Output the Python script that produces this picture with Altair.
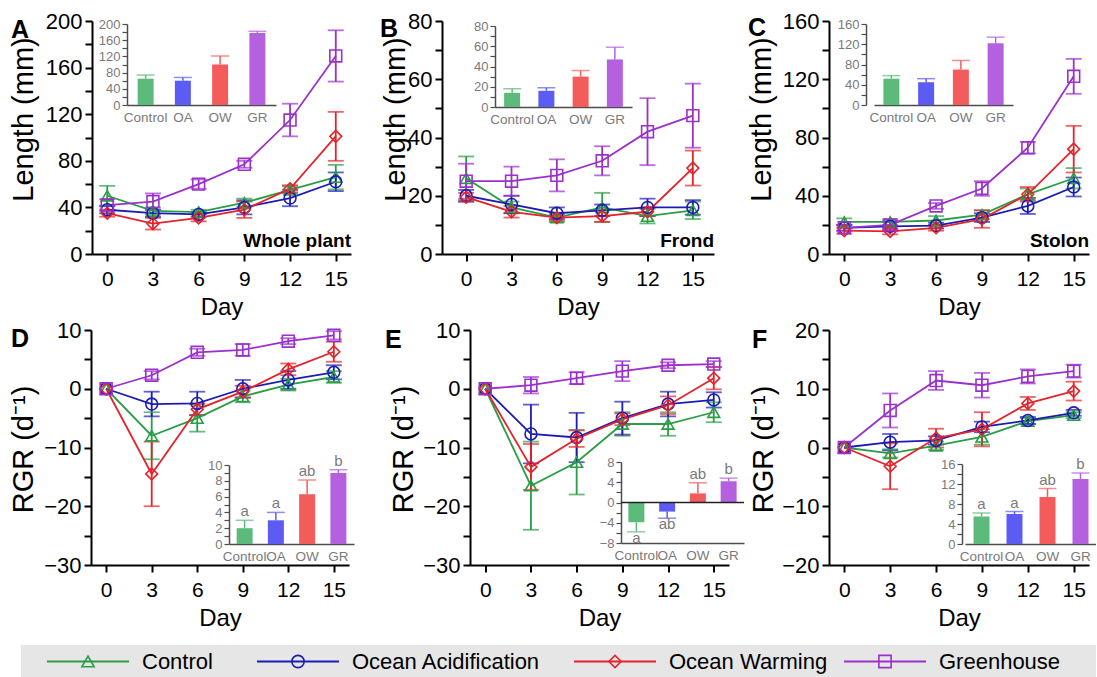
import altair as alt
import pandas as pd

FONT = "Liberation Sans"

# ------------------------------------------------------------------ data
DAYS = [0, 3, 6, 9, 12, 15]
SERIES = ["Control", "Ocean Acidification", "Ocean Warming", "Greenhouse"]
CATS = ["Control", "OA", "OW", "GR"]

# A: whole plant length (mm)
A_MEAN = {"Control": [50, 37, 36, 44, 55, 66],
          "Ocean Acidification": [38, 35, 34, 40, 48, 62],
          "Ocean Warming": [35, 26, 31, 38, 56, 101],
          "Greenhouse": [42, 45, 60, 77, 115, 170]}
A_ERR = {"Control": [8.5, 3, 2, 3.5, 3, 10.5],
         "Ocean Acidification": [3, 3, 2, 6, 7, 8],
         "Ocean Warming": [3, 5, 3, 7, 3, 21],
         "Greenhouse": [5, 7, 4, 3, 14, 22]}
A_BAR = [65, 60, 100, 178]
A_BAR_ERR = [9, 8, 21, 4]

# B: frond length (mm)
B_MEAN = {"Control": [26, 16, 12.5, 16, 13, 15],
          "Ocean Acidification": [20, 17, 14, 15, 16, 16],
          "Ocean Warming": [19.5, 14.5, 12.5, 13, 14.5, 29.5],
          "Greenhouse": [25, 25, 27, 32, 42, 47.5]}
B_ERR = {"Control": [7.5, 2, 1.5, 5, 2.5, 3],
         "Ocean Acidification": [2, 3, 2, 2, 3, 2.5],
         "Ocean Warming": [1.5, 2, 1, 2, 1.5, 6],
         "Greenhouse": [6, 5, 5.5, 5, 11.5, 11]}
B_BAR = [14, 16, 30, 47]
B_BAR_ERR = [4, 3, 6, 12]

# C: stolon length (mm)
C_MEAN = {"Control": [22, 22, 23, 27, 41, 52],
          "Ocean Acidification": [18, 19, 19.5, 25, 33, 46],
          "Ocean Warming": [16, 15.5, 18, 24, 41, 72],
          "Greenhouse": [18, 20, 33, 45, 73, 122]}
C_ERR = {"Control": [2.5, 2, 3, 3, 4, 7],
         "Ocean Acidification": [2, 3, 2, 3, 5.5, 6.5],
         "Ocean Warming": [2, 2, 2, 6, 5, 16],
         "Greenhouse": [2, 3, 2, 5, 4, 12]}
C_BAR = [52, 45, 70, 122]
C_BAR_ERR = [6, 7, 18, 12]

# D: RGR whole plant
D_MEAN = {"Control": [0, -8, -5, -1.3, 0.7, 2],
          "Ocean Acidification": [0, -2.6, -2.5, 0, 1.5, 2.8],
          "Ocean Warming": [0, -14.5, -3.5, -0.5, 3.3, 6.3],
          "Greenhouse": [0, 2.3, 6.2, 6.6, 8.1, 9.1]}
D_ERR = {"Control": [0, 4, 2.3, 1, 1, 1],
         "Ocean Acidification": [0, 2.1, 2, 1.5, 1.5, 1.2],
         "Ocean Warming": [0, 5.5, 1, 1, 1, 1.7],
         "Greenhouse": [0, 0.7, 0.6, 1, 0.5, 0.7]}
D_BAR = [2, 3, 6.3, 9]
D_BAR_ERR = [1, 1, 1.8, 0.4]
D_LETTERS = ["a", "a", "ab", "b"]

# E: RGR frond
E_MEAN = {"Control": [0, -16.5, -12.5, -6, -6, -4],
          "Ocean Acidification": [0, -7.7, -8.3, -5, -2.6, -1.9],
          "Ocean Warming": [0, -13.3, -8.5, -5.2, -2.8, 1.8],
          "Greenhouse": [0, 0.6, 1.8, 3, 4, 4.2]}
E_ERR = {"Control": [0, 7.5, 5.5, 2, 2, 1.7],
         "Ocean Acidification": [0, 5, 4.2, 2.8, 2.1, 1.3],
         "Ocean Warming": [0, 3.9, 1.4, 1, 1.5, 1.9],
         "Greenhouse": [0, 1.4, 1, 1.7, 0.5, 0.5]}
E_BAR = [-3.9, -1.8, 1.8, 4.2]
E_BAR_ERR = [1.9, 1.3, 2.1, 0.6]
E_LETTERS = ["a", "ab", "ab", "b"]

# F: RGR stolon
F_MEAN = {"Control": [0, -1, 0.3, 1.8, 4.5, 5.5],
          "Ocean Acidification": [0, 0.9, 1.2, 3.5, 4.6, 5.9],
          "Ocean Warming": [0, -3.2, 1.6, 3.1, 7.5, 9.6],
          "Greenhouse": [0, 6.3, 11.4, 10.6, 12.1, 13]}
F_ERR = {"Control": [0, 0.7, 0.7, 1.3, 0.5, 0.5],
         "Ocean Acidification": [0, 1.4, 0.7, 0.9, 0.6, 0.5],
         "Ocean Warming": [0, 3.9, 1.6, 2.9, 1.1, 1.6],
         "Greenhouse": [0, 2.9, 1.6, 2.1, 1.2, 1.1]}
F_BAR = [5.5, 6, 9.4, 13]
F_BAR_ERR = [0.7, 0.5, 1.7, 1.2]
F_LETTERS = ["a", "a", "ab", "b"]

# ------------------------------------------------------------------ styles / layout
LINE_COLORS = ["#2a9d46", "#1c1cb4", "#e4232a", "#9b30cc"]
BAR_COLORS = ["#5cba7b", "#5c5cf4", "#f45c5c", "#b560df"]
SHAPES = ["triangle-up", "circle", "diamond", "square"]
GRAY = "#7a7a7a"
IGRAY = "#4d4d4d"

SLOT_X = [93, 461.5, 830]
ROW_TOP = [20, 329, 640]
ROW_H = [233, 235]
W = 259

RGR = "RGR (d\u207b\u00b9)"
PANELS = [
    dict(L="A", col=0, row=0, ax=93, xend=352, xdom=[-1, 16], ydom=[0, 200], ystep=20, lstep=40,
         title="Length (mm)", tx=33, ty=118, lxy=(12, 37), tag="Whole plant", tagxy=(352, 246),
         mean=A_MEAN, err=A_ERR,
         ins=dict(ax=128, x0=128, x1=277, ytop=23, ybot=104, dom=[0, 200], step=20, lstep=40,
                  val=A_BAR, se=A_BAR_ERR, let=None)),
    dict(L="B", col=1, row=0, ax=443, xend=715, xdom=[-1.6, 16.4], ydom=[0, 80], ystep=10, lstep=20,
         title="Length (mm)", tx=405, ty=118, lxy=(381, 36), tag="Frond", tagxy=(715, 246),
         mean=B_MEAN, err=B_ERR,
         ins=dict(ax=496, x0=496, x1=633, ytop=25, ybot=106, dom=[0, 80], step=10, lstep=20,
                  val=B_BAR, se=B_BAR_ERR, let=None)),
    dict(L="C", col=2, row=0, ax=830, xend=1090, xdom=[-1, 16], ydom=[0, 160], ystep=20, lstep=40,
         title="Length (mm)", tx=771, ty=118, lxy=(749, 35), tag="Stolon", tagxy=(1090, 246),
         mean=C_MEAN, err=C_ERR,
         ins=dict(ax=867, x0=875, x1=1014, ytop=23, ybot=104, dom=[0, 160], step=20, lstep=40,
                  val=C_BAR, se=C_BAR_ERR, let=None)),
    dict(L="D", col=0, row=1, ax=92, xend=350, xdom=[-1, 16], ydom=[-30, 10], ystep=5, lstep=10,
         title=RGR, tx=33, ty=448, lxy=(12, 346), tag=None,
         mean=D_MEAN, err=D_ERR,
         ins=dict(ax=230, x0=230, x1=355, ytop=464, ybot=543, dom=[0, 10], step=1, lstep=2,
                  val=D_BAR, se=D_BAR_ERR, let=D_LETTERS)),
    dict(L="E", col=1, row=1, ax=471, xend=730, xdom=[-1, 16], ydom=[-30, 10], ystep=5, lstep=10,
         title=RGR, tx=413, ty=448, lxy=(386, 347), tag=None,
         mean=E_MEAN, err=E_ERR,
         ins=dict(ax=622, x0=622, x1=745, ytop=461, ybot=542, dom=[-8, 8], step=2, lstep=4,
                  val=E_BAR, se=E_BAR_ERR, let=E_LETTERS, zero=True)),
    dict(L="F", col=2, row=1, ax=830, xend=1090, xdom=[-1, 16], ydom=[-20, 20], ystep=5, lstep=10,
         title=RGR, tx=773, ty=448, lxy=(753, 347), tag=None,
         mean=F_MEAN, err=F_ERR,
         ins=dict(ax=963, x0=966, x1=1098, ytop=463, ybot=543, dom=[0, 16], step=2, lstep=4,
                  val=F_BAR, se=F_BAR_ERR, let=F_LETTERS)),
]

LEGEND_X = {"Control": 48, "Ocean Acidification": 258, "Ocean Warming": 575, "Greenhouse": 845}

color = alt.Color("series:N", scale=alt.Scale(domain=SERIES, range=LINE_COLORS), legend=None)
shape = alt.Shape("series:N", scale=alt.Scale(domain=SERIES, range=SHAPES), legend=None)
ifill = alt.Fill("cat:N", scale=alt.Scale(domain=CATS, range=BAR_COLORS), legend=None)
istroke = alt.Stroke("cat:N", scale=alt.Scale(domain=CATS, range=BAR_COLORS), legend=None)


def frange(a, b, s):
    out, v = [], a
    while v <= b + 1e-9:
        out.append(round(v, 6))
        v += s
    return out


def long_df(means, errs):
    rows = []
    for s in SERIES:
        for d, m, e in zip(DAYS, means[s], errs[s]):
            rows.append(dict(day=d, series=s, mean=m, lo=m - e, hi=m + e, err=e))
    return pd.DataFrame(rows)


def panel(p):
    ox, oy, H = SLOT_X[p["col"]], ROW_TOP[p["row"]], ROW_H[p["row"]]
    df = long_df(p["mean"], p["err"])
    xs = alt.Scale(domain=p["xdom"], range=[p["ax"] - ox, p["xend"] - ox], nice=False, zero=False)
    ys = alt.Scale(domain=p["ydom"], range=[H, 0], nice=False, zero=False)
    xax = alt.Axis(values=DAYS, title="Day", titleFontSize=24, titleFontWeight="normal", titleColor="black",
                   titleY=60, titleBaseline="alphabetic", labelFontSize=21, labelColor="black",
                   labelPadding=7, tickSize=7, tickWidth=2, tickColor="black", domainColor="black",
                   domainWidth=2, grid=False, labelFlush=False, labelOverlap=False, orient="bottom")
    yax = alt.Axis(values=frange(p["ydom"][0], p["ydom"][1], p["ystep"]),
                   labelExpr=f"datum.value % {p['lstep']} === 0 ? datum.label : ''",
                   title=p["title"], titleX=p["tx"] - p["ax"], titleY=p["ty"] - oy, titleAngle=270,
                   titleAlign="center", titleBaseline="alphabetic", titleFontSize=29,
                   titleFontWeight="normal", titleColor="black", labelFontSize=22, labelColor="black",
                   labelPadding=3, tickSize=7, tickWidth=2, tickColor="black", domainColor="black",
                   domainWidth=2, grid=False, labelOverlap=False, labelFlush=False,
                   offset=ox - p["ax"], orient="left")
    xe = alt.X("day:Q", scale=xs, axis=xax)

    def ye(f):
        return alt.Y(f + ":Q", scale=ys, axis=yax)

    base = alt.Chart(df)
    rules = base.mark_rule(strokeWidth=1.8).encode(x=xe, y=ye("lo"), y2="hi:Q", color=color)
    caps = (base.transform_filter("datum.err > 0")
            .transform_fold(["lo", "hi"], as_=["end", "yv"])
            .mark_tick(orient="horizontal", size=16, thickness=1.8)
            .encode(x=xe, y=ye("yv"), color=color))
    lines = base.mark_line(strokeWidth=1.8).encode(x=xe, y=ye("mean"), color=color)
    pts = base.mark_point(filled=False, size=140, strokeWidth=1.6, opacity=1).encode(
        x=xe, y=ye("mean"), color=color, shape=shape)
    layers = [rules, caps, lines, pts]
    letter = alt.Chart(pd.DataFrame({"t": [p["L"]]})).mark_text(
        align="left", baseline="alphabetic", fontSize=25, fontWeight="bold", color="black").encode(
        text="t:N", x=alt.value(p["lxy"][0] - ox), y=alt.value(p["lxy"][1] - oy))
    layers.append(letter)
    if p["tag"]:
        tag = alt.Chart(pd.DataFrame({"t": [p["tag"]]})).mark_text(
            align="right", baseline="alphabetic", fontSize=19, fontWeight="bold", color="black").encode(
            text="t:N", x=alt.value(p["tagxy"][0] - ox), y=alt.value(p["tagxy"][1] - oy))
        layers.append(tag)
    main = alt.layer(*layers)

    # ---------------- inset bar chart
    q = p["ins"]
    ends = [v + (s if v >= 0 else -s) for v, s in zip(q["val"], q["se"])]
    idf = pd.DataFrame({"cat": CATS, "val": q["val"], "end": ends,
                        "letter": q["let"] if q["let"] else [""] * 4})
    ixs = alt.Scale(domain=CATS, range=[q["x0"] - ox, q["x1"] - ox], paddingInner=0, paddingOuter=0)
    iys = alt.Scale(domain=q["dom"], range=[q["ybot"] - oy, q["ytop"] - oy], nice=False, zero=False)
    ixax = alt.Axis(title=None, labelAngle=0, labelFontSize=13.5, labelColor=GRAY, ticks=False,
                    domainColor=IGRAY, domainWidth=1.5, labelPadding=5, grid=False, orient="bottom",
                    offset=-(H - (q["ybot"] - oy)), labelOverlap=False)
    iyax = alt.Axis(values=frange(q["dom"][0], q["dom"][1], q["step"]),
                    labelExpr=f"datum.value % {q['lstep']} === 0 ? datum.label : ''",
                    title=None, labelFontSize=13, labelColor=GRAY, tickSize=5, tickWidth=1.2,
                    tickColor=IGRAY, domainColor=IGRAY, domainWidth=1.5, labelPadding=2, grid=False,
                    orient="left", offset=ox - q["ax"], labelOverlap=False, labelFlush=False)
    ixe = alt.X("cat:N", scale=ixs, axis=ixax, sort=CATS)

    def iye(f):
        return alt.Y(f + ":Q", scale=iys, axis=iyax)

    ib = alt.Chart(idf)
    bars = ib.mark_bar(size=16).encode(x=ixe, y=iye("val"), y2=alt.datum(0), fill=ifill)
    erule = ib.mark_rule(strokeWidth=1.5).encode(x=ixe, y=iye("val"), y2="end:Q", stroke=istroke)
    ecap = ib.mark_tick(orient="horizontal", size=18, thickness=1.5).encode(x=ixe, y=iye("end"), fill=ifill)
    ilayers = [bars, erule, ecap]
    if q["let"]:
        up = ib.transform_filter("datum.val >= 0").mark_text(
            baseline="bottom", dy=-1, fontSize=15, color=GRAY).encode(x=ixe, y=iye("end"), text="letter:N")
        dn = ib.transform_filter("datum.val < 0").mark_text(
            baseline="top", dy=-1, fontSize=15, color=GRAY).encode(x=ixe, y=iye("end"), text="letter:N")
        ilayers += [up, dn]
    if q.get("zero"):
        zr = alt.Chart(pd.DataFrame({"z": [0]})).mark_rule(color="#222222", strokeWidth=1.6).encode(
            x=alt.value(q["x0"] - ox), x2=alt.value(q["x1"] - ox), y=iye("z"))
        ilayers.append(zr)
    inset = alt.layer(*ilayers)

    return alt.layer(main, inset).resolve_scale(x="independent", y="independent").properties(
        width=W, height=H, view=alt.ViewBackground(strokeWidth=0, strokeOpacity=0))


panels = [panel(p) for p in PANELS]

# ---------------- legend strip
ox, oy = SLOT_X[0], ROW_TOP[2]
ldf = pd.DataFrame({"series": SERIES, "lx": [LEGEND_X[s] for s in SERIES]})
lxs = alt.Scale(domain=[0, 1097], range=[0 - ox, 1097 - ox], nice=False, zero=False)
lb = alt.Chart(ldf)
bg = alt.Chart(pd.DataFrame({"z": [0]})).mark_rect(color="#e6e6e6").encode(
    x=alt.value(22 - ox), x2=alt.value(1097 - ox), y=alt.value(644 - oy), y2=alt.value(677 - oy))
lline = lb.transform_calculate(lx2="datum.lx + 82").mark_rule(strokeWidth=1.8).encode(
    x=alt.X("lx:Q", scale=lxs, axis=None), x2="lx2:Q", y=alt.value(660.5 - oy), color=color)
lpt = lb.transform_calculate(lxm="datum.lx + 41").mark_point(
    filled=False, size=150, strokeWidth=1.6, opacity=1).encode(
    x=alt.X("lxm:Q", scale=lxs, axis=None), y=alt.value(660.5 - oy), color=color, shape=shape)
ltxt = lb.transform_calculate(lxt="datum.lx + 95").mark_text(
    align="left", baseline="middle", fontSize=22, color="black").encode(
    x=alt.X("lxt:Q", scale=lxs, axis=None), y=alt.value(661 - oy), text="series:N")
legend = alt.layer(bg, lline, lpt, ltxt).properties(
    width=W, height=37, view=alt.ViewBackground(strokeWidth=0, strokeOpacity=0))

chart = alt.concat(*panels, legend, columns=3, spacing={"row": 76, "column": 109.5},
                   bounds="flush").resolve_scale(x="independent", y="independent").properties(
    padding={"left": 9, "top": 10, "right": 0, "bottom": 0}
).configure(
    font=FONT, background="white",
    view=alt.ViewConfig(strokeWidth=0, strokeOpacity=0),
)

chart.save("out.html", embed_options={"renderer": "svg", "actions": False})
